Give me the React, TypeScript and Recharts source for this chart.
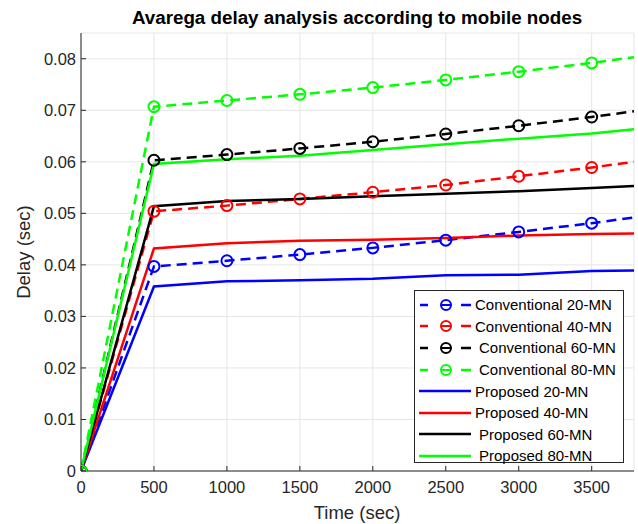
import React from "react";
import { LineChart, Line, XAxis, YAxis, CartesianGrid } from "recharts";

const timeValues = [0, 500, 1000, 1500, 2000, 2500, 3000, 3500, 3790];
const conventional20 = [0, 0.0397, 0.0408, 0.042, 0.0433, 0.0448, 0.0464, 0.0481, 0.0492];
const conventional40 = [0, 0.0504, 0.0515, 0.0528, 0.0541, 0.0555, 0.0572, 0.0589, 0.06];
const conventional60 = [0, 0.0603, 0.0614, 0.0626, 0.0639, 0.0654, 0.067, 0.0687, 0.0698];
const conventional80 = [0, 0.0707, 0.0719, 0.0731, 0.0744, 0.0759, 0.0775, 0.0792, 0.0803];
const proposed20 = [0, 0.0358, 0.0368, 0.037, 0.0373, 0.038, 0.0381, 0.0388, 0.0389];
const proposed40 = [0, 0.0432, 0.0442, 0.0447, 0.0449, 0.0452, 0.0457, 0.046, 0.0461];
const proposed60 = [0, 0.0514, 0.0524, 0.0528, 0.0533, 0.0538, 0.0543, 0.0549, 0.0553];
const proposed80 = [0, 0.0596, 0.0605, 0.0612, 0.0623, 0.0634, 0.0645, 0.0655, 0.0663];

const xTicks = [0, 500, 1000, 1500, 2000, 2500, 3000, 3500];
const yTicks = [0, 0.01, 0.02, 0.03, 0.04, 0.05, 0.06, 0.07, 0.08];
const yTickLabels = ["0", "0.01", "0.02", "0.03", "0.04", "0.05", "0.06", "0.07", "0.08"];

const seriesDefs = [
  { key: "c20", name: "Conventional 20-MN", values: conventional20, color: "#0000ff", dashed: true, pad: false },
  { key: "c40", name: "Conventional 40-MN", values: conventional40, color: "#ff0000", dashed: true, pad: false },
  { key: "c60", name: "Conventional 60-MN", values: conventional60, color: "#000000", dashed: true, pad: true },
  { key: "c80", name: "Conventional 80-MN", values: conventional80, color: "#00ff00", dashed: true, pad: true },
  { key: "p20", name: "Proposed 20-MN", values: proposed20, color: "#0000ff", dashed: false, pad: false },
  { key: "p40", name: "Proposed 40-MN", values: proposed40, color: "#ff0000", dashed: false, pad: false },
  { key: "p60", name: "Proposed 60-MN", values: proposed60, color: "#000000", dashed: false, pad: true },
  { key: "p80", name: "Proposed 80-MN", values: proposed80, color: "#00ff00", dashed: false, pad: true },
];

const data = timeValues.map((t, i) => {
  const row: any = { t };
  seriesDefs.forEach((s) => (row[s.key] = s.values[i]));
  return row;
});

const AXIS = "#262626";
const FONT = "'Liberation Sans', Arial, Helvetica, sans-serif";
const lastIndex = timeValues.length - 1;

const makeDot = (color: string) => (props: any) => {
  const { cx, cy, index } = props;
  if (index === lastIndex || cx == null) return <g key={`d-${color}-${index}`} />;
  return (
    <circle key={`d-${color}-${index}`} cx={cx} cy={cy} r={5.5} fill="none" stroke={color} strokeWidth={2} />
  );
};

const BottomTick = (props: any) => {
  const { x, y, payload } = props;
  return (
    <g>
      <line x1={x} y1={y} x2={x} y2={y - 5} stroke={AXIS} strokeWidth={1} />
      <text x={x} y={y + 22} textAnchor="middle" fill={AXIS} fontSize={16.5} fontFamily={FONT}>
        {payload.value}
      </text>
    </g>
  );
};

const TopTick = (props: any) => {
  const { x, y } = props;
  return <line x1={x} y1={y} x2={x} y2={y + 5} stroke={AXIS} strokeWidth={1} />;
};

const LeftTick = (props: any) => {
  const { x, y, payload } = props;
  const idx = yTicks.indexOf(payload.value);
  return (
    <g>
      <line x1={x} y1={y} x2={x + 5} y2={y} stroke={AXIS} strokeWidth={1} />
      <text x={x - 5} y={y + 6} textAnchor="end" fill={AXIS} fontSize={16.5} fontFamily={FONT}>
        {idx >= 0 ? yTickLabels[idx] : payload.value}
      </text>
    </g>
  );
};

const RightTick = (props: any) => {
  const { x, y } = props;
  return <line x1={x} y1={y} x2={x - 5} y2={y} stroke={AXIS} strokeWidth={1} />;
};

const LegendBox = () => (
  <div
    style={{
      position: "absolute",
      left: 414,
      top: 290,
      width: 210,
      height: 173,
      border: "1px solid #262626",
      background: "#fff",
      boxSizing: "border-box",
      paddingTop: 3,
      fontFamily: FONT,
      fontSize: 15,
      color: "#000",
    }}
  >
    {seriesDefs.map((s) => (
      <div key={s.key} style={{ display: "flex", alignItems: "center", height: 21.6 }}>
        <svg width={58} height={20} style={{ flex: "none" }}>
          {s.dashed ? (
            <g>
              <line x1={5} y1={10} x2={13} y2={10} stroke={s.color} strokeWidth={2.5} />
              <circle cx={31} cy={10} r={5} fill="none" stroke={s.color} strokeWidth={2} />
              <line x1={26} y1={10} x2={36} y2={10} stroke={s.color} strokeWidth={2} />
              <line x1={46} y1={10} x2={56} y2={10} stroke={s.color} strokeWidth={2.5} />
            </g>
          ) : (
            <line x1={4} y1={10} x2={56} y2={10} stroke={s.color} strokeWidth={2.5} />
          )}
        </svg>
        <span style={{ whiteSpace: "pre", marginLeft: s.pad ? 6 : 2 }}>{s.name}</span>
      </div>
    ))}
  </div>
);

export default function App() {
  return (
    <div style={{ position: "absolute", left: 0, top: 0, width: 638, height: 524, background: "#fff" }}>
      <div style={{ position: "absolute", left: 0, top: 0 }}>
        <LineChart width={638} height={524} data={data} margin={{ top: 33, right: 4, bottom: 0, left: 0 }}>
          <CartesianGrid stroke="#e6e6e6" strokeWidth={1} vertical horizontal />
          <XAxis
            dataKey="t"
            type="number"
            domain={[0, 3790]}
            ticks={xTicks}
            allowDataOverflow
            height={53}
            tickSize={0}
            tickMargin={0}
            tickLine={false}
            axisLine={{ stroke: AXIS, strokeWidth: 1 }}
            tick={<BottomTick />}
            interval={0}
          />
          <XAxis
            xAxisId="top"
            orientation="top"
            dataKey="t"
            type="number"
            domain={[0, 3790]}
            ticks={xTicks}
            allowDataOverflow
            height={0}
            tickSize={0}
            tickMargin={0}
            tickLine={false}
            axisLine={{ stroke: AXIS, strokeWidth: 1 }}
            tick={<TopTick />}
            interval={0}
          />
          <YAxis
            type="number"
            domain={[0, 0.085]}
            ticks={yTicks}
            allowDataOverflow
            width={81}
            tickSize={0}
            tickMargin={0}
            tickLine={false}
            axisLine={{ stroke: AXIS, strokeWidth: 1 }}
            tick={<LeftTick />}
            interval={0}
          />
          <YAxis
            yAxisId="right"
            orientation="right"
            type="number"
            domain={[0, 0.085]}
            ticks={yTicks}
            allowDataOverflow
            width={0}
            tickSize={0}
            tickMargin={0}
            tickLine={false}
            axisLine={{ stroke: AXIS, strokeWidth: 1 }}
            tick={<RightTick />}
            interval={0}
          />
          {seriesDefs.map((s) => (
            <Line
              key={s.key}
              dataKey={s.key}
              name={s.name}
              type="linear"
              stroke={s.color}
              strokeWidth={2.5}
              strokeDasharray={s.dashed ? "10 6" : undefined}
              dot={s.dashed ? makeDot(s.color) : false}
              activeDot={false}
              isAnimationActive={false}
            />
          ))}
        </LineChart>
      </div>
      <LegendBox />
      <svg width={638} height={524} style={{ position: "absolute", left: 0, top: 0, pointerEvents: "none" }}>
        <text x={357} y={24} textAnchor="middle" fontFamily={FONT} fontWeight="bold" fontSize={18.8} fill="#000">
          Avarega delay analysis according to mobile nodes
        </text>
        <text x={357} y={519} textAnchor="middle" fontFamily={FONT} fontSize={18.5} fill={AXIS}>
          Time (sec)
        </text>
        <text
          x={30}
          y={252}
          textAnchor="middle"
          fontFamily={FONT}
          fontSize={18.5}
          fill={AXIS}
          transform="rotate(-90 30 252)"
        >
          Delay (sec)
        </text>
      </svg>
    </div>
  );
}
